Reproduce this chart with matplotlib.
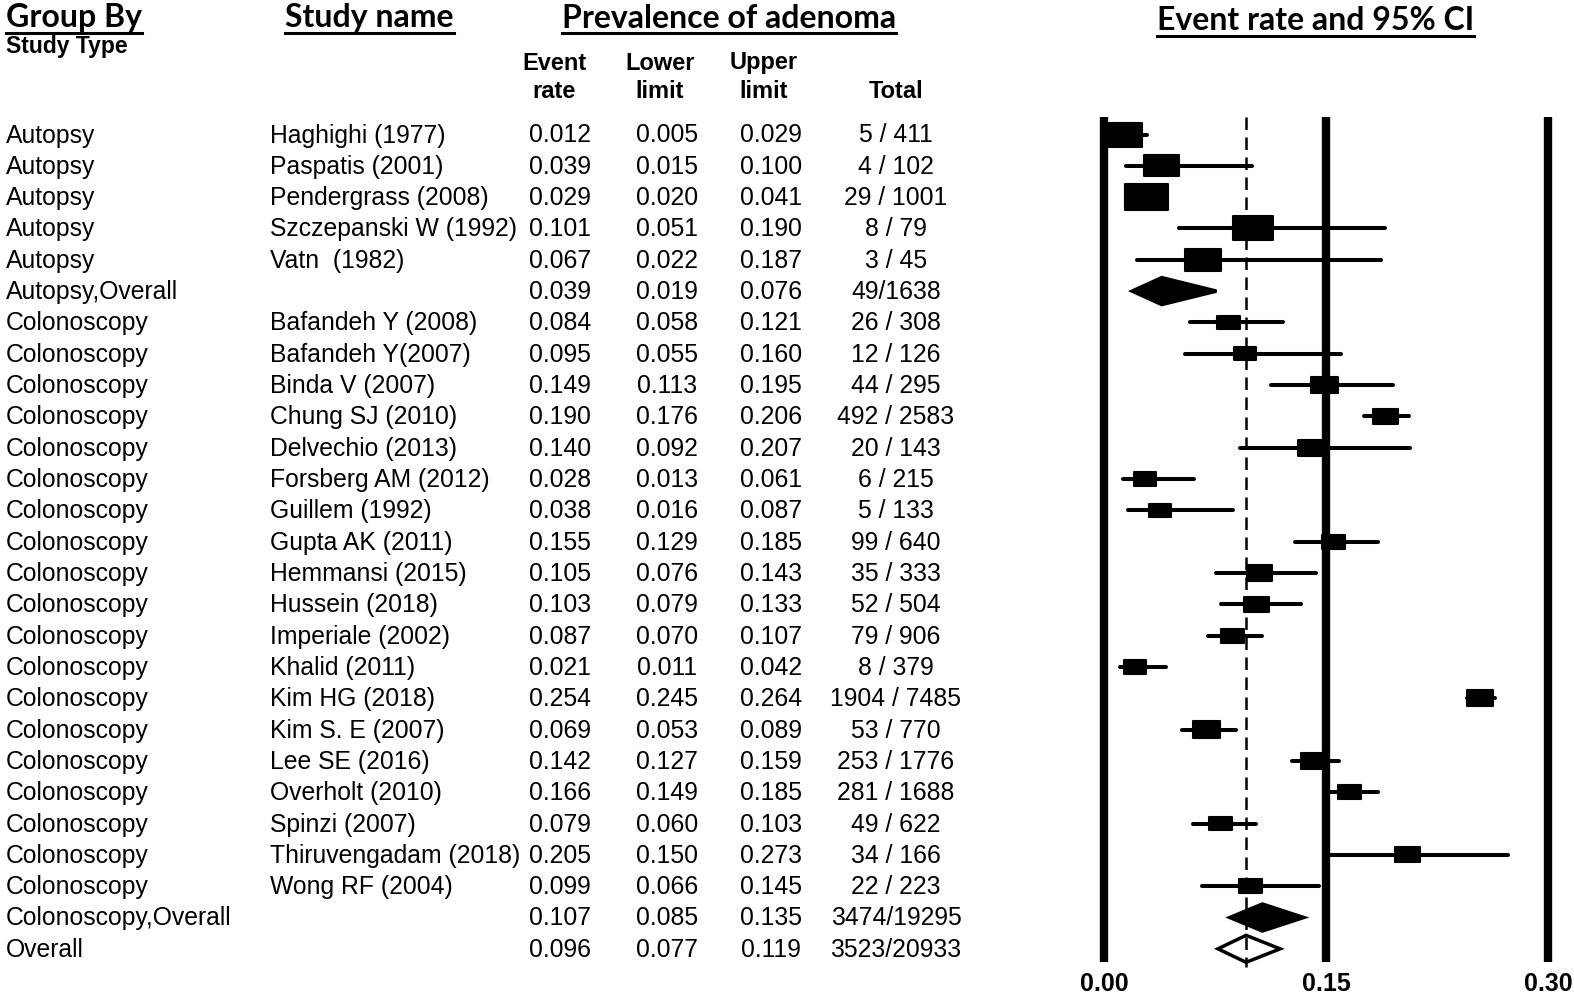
import matplotlib
matplotlib.use("Agg")
import matplotlib.pyplot as plt
import matplotlib.transforms as mtransforms
from matplotlib.patches import Rectangle, Polygon
from matplotlib.lines import Line2D

groups = ["Autopsy"] * 5 + ["Autopsy,Overall"] + ["Colonoscopy"] * 19 + ["Colonoscopy,Overall", "Overall"]
studies = ["Haghighi (1977)", "Paspatis (2001)", "Pendergrass (2008)", "Szczepanski W (1992)", "Vatn  (1982)", "",
           "Bafandeh Y (2008)", "Bafandeh Y(2007)", "Binda V (2007)", "Chung SJ (2010)", "Delvechio (2013)",
           "Forsberg AM (2012)", "Guillem (1992)", "Gupta AK (2011)", "Hemmansi (2015)", "Hussein (2018)",
           "Imperiale (2002)", "Khalid (2011)", "Kim HG (2018)", "Kim S. E (2007)", "Lee SE (2016)",
           "Overholt (2010)", "Spinzi (2007)", "Thiruvengadam (2018)", "Wong RF (2004)", "", ""]
event = [0.012, 0.039, 0.029, 0.101, 0.067, 0.039, 0.084, 0.095, 0.149, 0.190, 0.140, 0.028, 0.038, 0.155,
         0.105, 0.103, 0.087, 0.021, 0.254, 0.069, 0.142, 0.166, 0.079, 0.205, 0.099, 0.107, 0.096]
lower = [0.005, 0.015, 0.020, 0.051, 0.022, 0.019, 0.058, 0.055, 0.113, 0.176, 0.092, 0.013, 0.016, 0.129,
         0.076, 0.079, 0.070, 0.011, 0.245, 0.053, 0.127, 0.149, 0.060, 0.150, 0.066, 0.085, 0.077]
upper = [0.029, 0.100, 0.041, 0.190, 0.187, 0.076, 0.121, 0.160, 0.195, 0.206, 0.207, 0.061, 0.087, 0.185,
         0.143, 0.133, 0.107, 0.042, 0.264, 0.089, 0.159, 0.185, 0.103, 0.273, 0.145, 0.135, 0.119]
totals = ["5 / 411", "4 / 102", "29 / 1001", "8 / 79", "3 / 45", "49/1638", "26 / 308", "12 / 126", "44 / 295",
          "492 / 2583", "20 / 143", "6 / 215", "5 / 133", "99 / 640", "35 / 333", "52 / 504", "79 / 906",
          "8 / 379", "1904 / 7485", "53 / 770", "253 / 1776", "281 / 1688", "49 / 622", "34 / 166", "22 / 223",
          "3474/19295", "3523/20933"]
# relative study weights (None = summary row)
weights = [16, 12, 18.5, 16, 13, None, 5.3, 4.8, 6.8, 6.3, 7.3, 4.8, 4.8, 5.3, 6.3, 6.3, 5.3, 4.8, 7,
           7.3, 7.3, 5.3, 5.3, 6.3, 5.3, None, None]
ticks = [0.00, 0.15, 0.30]

W, H = 1574, 1004
ROW0, DROW = 135.5, 31.32   # pixel y of first row, row spacing
X0, PX = 1104, 1480         # pixel x of 0.00, pixels per unit


def row_of(py):
    return (py - ROW0) / DROW


fig = plt.figure(figsize=(W / 100, H / 100), dpi=100)
ax = fig.add_axes([(X0 - 0.02 * PX) / W, 0, 0.335 * PX / W, 1])
ax.set_xlim(-0.02, 0.315)
ax.set_ylim(row_of(H), row_of(0))
ax.axis("off")

tr = mtransforms.blended_transform_factory(fig.transFigure, ax.transData)
body = dict(family="Liberation Sans", fontsize=17.8, color="black", transform=tr, va="center")

for i in range(len(groups)):
    ax.text(6 / W, i, groups[i], ha="left", **body)
    ax.text(270 / W, i, studies[i], ha="left", **body)
    ax.text(560 / W, i, f"{event[i]:.3f}", ha="center", **body)
    ax.text(667 / W, i, f"{lower[i]:.3f}", ha="center", **body)
    ax.text(771 / W, i, f"{upper[i]:.3f}", ha="center", **body)
    ax.text(896 / W, i, totals[i], ha="center", **body)

# column headers
hdr = dict(family="Liberation Sans", fontsize=17, fontweight="bold", transform=tr, va="center", ha="center")
for x, top, bot in [(554, "Event", "rate"), (660, "Lower", "limit"), (764, "Upper", "limit")]:
    ax.text(x / W, row_of(63), top, **hdr)
    ax.text(x / W, row_of(92), bot, **hdr)
ax.text(896 / W, row_of(92), "Total", **hdr)
ax.text(6 / W, row_of(47), "Study Type", family="Liberation Sans", fontsize=16.5, fontweight="bold",
        transform=tr, va="center", ha="left")

# underlined section titles
titles = []
for x, py, s in [(6, 18, "Group By"), (285, 18, "Study name"), (562, 18, "Prevalence of adenoma"),
                 (1157, 21, "Event rate and 95% CI")]:
    titles.append(ax.text(x / W, row_of(py), s, family="Lato", fontsize=23, fontweight="bold",
                          transform=tr, va="center", ha="left"))

# forest plot
ax.vlines(ticks, row_of(118), row_of(963), color="black", lw=6)
ax.plot([event[-1], event[-1]], [row_of(118), row_of(968)], color="black", lw=1.8, dashes=(5, 3), zorder=4)

for i in range(len(groups)):
    if weights[i] is not None:
        ax.plot([lower[i], upper[i]], [i, i], color="black", lw=2.9, solid_capstyle="round")
        bw = 10 * weights[i] ** 0.5
        bh = 0.6 * bw
        ax.add_patch(Rectangle((event[i] - bw / 2 / PX, i - bh / 2 / DROW), bw / PX, bh / DROW,
                               facecolor="black", edgecolor="black", lw=1.5, joinstyle="round", zorder=3))
    else:
        dh = 13.5 / DROW
        pts = [(lower[i], i), (event[i], i - dh), (upper[i], i), (event[i], i + dh)]
        hollow = groups[i] == "Overall"
        ax.add_patch(Polygon(pts, closed=True, facecolor="white" if hollow else "black",
                             edgecolor="black", lw=2.5, zorder=3))

for t in ticks:
    ax.text(t, row_of(984), f"{t:.2f}", ha="center", va="center", family="Liberation Sans",
            fontsize=18, fontweight="bold")

fig.canvas.draw()
renderer = fig.canvas.get_renderer()
for t in titles:
    bb = t.get_window_extent(renderer)
    fig.add_artist(Line2D([bb.x0 / W, bb.x1 / W], [(bb.y0 - 1) / H] * 2, transform=fig.transFigure,
                          color="black", lw=2.2))

fig.savefig("out.png", dpi=100)
